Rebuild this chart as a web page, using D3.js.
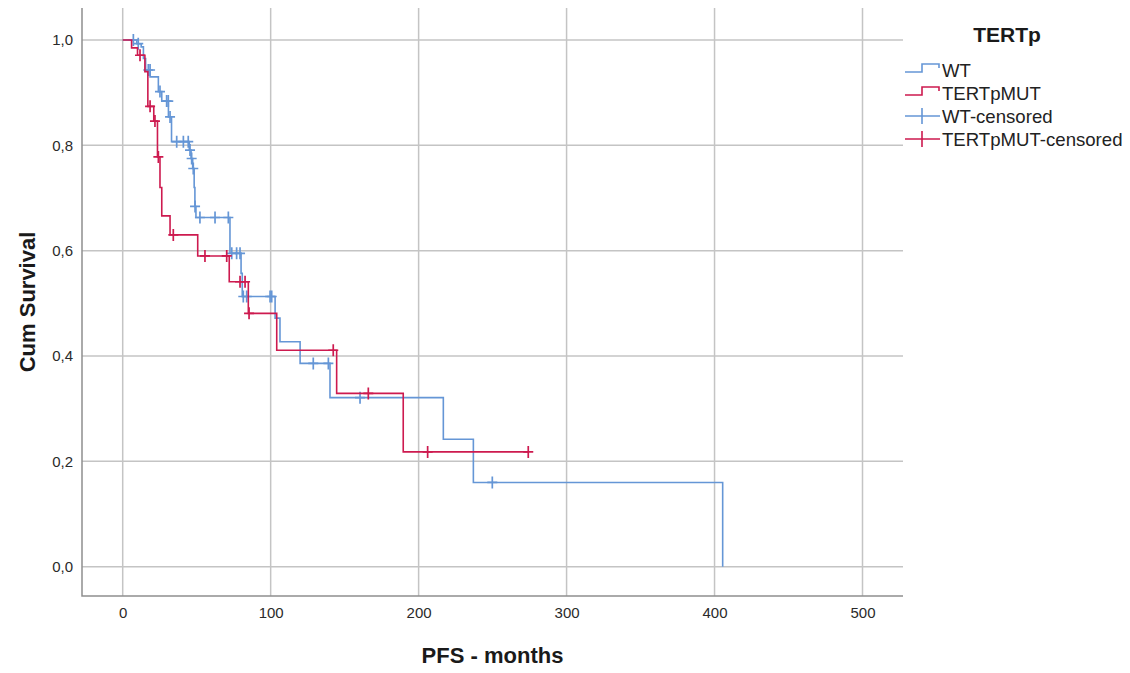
<!DOCTYPE html>
<html>
<head>
<meta charset="utf-8">
<script src="https://cdn.jsdelivr.net/npm/d3@7"></script>
<style>
  body { margin: 0; background: #fff; }
  svg { font-family: "Liberation Sans", Arial, sans-serif; }
</style>
</head>
<body>
<svg id="chart"></svg>
<script>
// Kaplan-Meier steps: time (months) and survival after the step
const wtTimes = [0, 9.5, 12.5, 14, 15.5, 18.5, 24.1, 26.4, 30.9, 33, 45, 46.2, 47.3, 48.3, 48.8, 49.5, 72.5, 80, 80.8, 103, 106.3, 119.9, 140.1, 216.7, 237, 405.5];
const wtSurv = [1, 0.993, 0.987, 0.965, 0.943, 0.930, 0.902, 0.884, 0.854, 0.807, 0.791, 0.775, 0.756, 0.720, 0.684, 0.663, 0.595, 0.557, 0.513, 0.472, 0.427, 0.386, 0.321, 0.242, 0.160, 0];
const wtCensTimes = [7.2, 10.5, 17.3, 18.5, 25.2, 29.7, 30.8, 32, 36.5, 41, 44.3, 45.5, 46.6, 47.7, 48.9, 52.2, 62.4, 71.4, 73.7, 77, 79.3, 81.5, 83.8, 99.6, 100.7, 128.8, 139, 160.4, 249.8];
const wtCensSurv = [1, 0.993, 0.943, 0.943, 0.902, 0.884, 0.884, 0.854, 0.807, 0.807, 0.807, 0.791, 0.775, 0.756, 0.684, 0.663, 0.663, 0.663, 0.595, 0.595, 0.595, 0.513, 0.513, 0.513, 0.513, 0.386, 0.386, 0.321, 0.160];
const wtEnd = 405.5;

const mutTimes = [0, 6, 10, 15, 17, 21, 23.5, 25.2, 26.4, 32, 50.7, 72, 84.9, 104.1, 144.6, 189.6];
const mutSurv = [1, 0.985, 0.971, 0.94, 0.874, 0.846, 0.778, 0.72, 0.666, 0.630, 0.590, 0.541, 0.481, 0.411, 0.329, 0.218];
const mutCensTimes = [11.7, 18.5, 21.8, 24.1, 34.2, 55.6, 70.3, 79.3, 82.7, 85.4, 142.3, 166, 206.1, 274.1];
const mutCensSurv = [0.971, 0.874, 0.846, 0.778, 0.630, 0.590, 0.590, 0.541, 0.541, 0.481, 0.411, 0.329, 0.218, 0.218];
const mutEnd = 274.1;

const xTicks = [0, 100, 200, 300, 400, 500];
const yTicks = [0, 0.2, 0.4, 0.6, 0.8, 1.0];
const legendLabels = ["WT", "TERTpMUT", "WT-censored", "TERTpMUT-censored"];

const width = 1130, height = 673;
const blue = "#6596d6", red = "#cd1a4f", gridColor = "#c4c4c4", axisColor = "#8e8e8e";

const svg = d3.select("#chart").attr("width", width).attr("height", height);

// plot frame (pixel box of the axes)
const frame = { left: 82, right: 903, top: 8, bottom: 596 };

const x = d3.scaleLinear().domain([0, 500]).range([122.7, 862.5]);
const y = d3.scaleLinear().domain([0, 1]).range([566.7, 40]);

// Grid
svg.append("g")
  .selectAll("line")
  .data(xTicks)
  .join("line")
  .attr("x1", (d) => x(d)).attr("x2", (d) => x(d))
  .attr("y1", frame.top).attr("y2", frame.bottom)
  .attr("stroke", gridColor).attr("stroke-width", 1.5);

svg.append("g")
  .selectAll("line")
  .data(yTicks)
  .join("line")
  .attr("x1", frame.left).attr("x2", frame.right)
  .attr("y1", (d) => y(d)).attr("y2", (d) => y(d))
  .attr("stroke", gridColor).attr("stroke-width", 1.5);

// Axes (labels only, lines drawn separately)
const fmt = (d) => d3.format(".1f")(d).replace(".", ",");

const yAxis = svg.append("g")
  .attr("transform", `translate(${frame.left},0)`)
  .call(d3.axisLeft(y).tickValues(yTicks).tickFormat(fmt).tickSize(0).tickPadding(9));
yAxis.select(".domain").remove();
yAxis.selectAll("text").style("font-size", "15px").style("fill", "#2a2a2a");

const xAxis = svg.append("g")
  .attr("transform", `translate(0,${frame.bottom})`)
  .call(d3.axisBottom(x).tickValues(xTicks).tickFormat(d3.format("d")).tickSize(0).tickPadding(11));
xAxis.select(".domain").remove();
xAxis.selectAll("text").style("font-size", "15px").style("fill", "#2a2a2a");

svg.append("path")
  .attr("d", `M${frame.left},${frame.top}V${frame.bottom}H${frame.right}`)
  .attr("fill", "none")
  .attr("stroke", axisColor)
  .attr("stroke-width", 1.5);

// Axis titles
svg.append("text")
  .attr("x", (frame.left + frame.right) / 2)
  .attr("y", 663)
  .attr("text-anchor", "middle")
  .style("font-size", "22px")
  .style("font-weight", "bold")
  .style("fill", "#1a1a1a")
  .text("PFS - months");

svg.append("text")
  .attr("transform", "rotate(-90)")
  .attr("x", -(frame.top + frame.bottom) / 2)
  .attr("y", 35)
  .attr("text-anchor", "middle")
  .style("font-size", "22px")
  .style("font-weight", "bold")
  .style("fill", "#1a1a1a")
  .text("Cum Survival");

// Survival curves
const line = d3.line()
  .x((d) => x(d[0]))
  .y((d) => y(d[1]))
  .curve(d3.curveStepAfter);

function curvePoints(times, surv, end) {
  const pts = times.map((t, i) => [t, surv[i]]);
  pts.push([end, surv[surv.length - 1]]);
  return pts;
}

const series = [
  { color: blue, pts: curvePoints(wtTimes, wtSurv, wtEnd), cens: wtCensTimes.map((t, i) => [t, wtCensSurv[i]]) },
  { color: red, pts: curvePoints(mutTimes, mutSurv, mutEnd), cens: mutCensTimes.map((t, i) => [t, mutCensSurv[i]]) },
];

series.forEach((s) => {
  svg.append("path")
    .datum(s.pts)
    .attr("fill", "none")
    .attr("stroke", s.color)
    .attr("stroke-width", 1.6)
    .attr("d", line);

  svg.append("g")
    .selectAll("path")
    .data(s.cens)
    .join("path")
    .attr("d", (d) => `M${x(d[0]) - 5},${y(d[1])}h10M${x(d[0])},${y(d[1]) - 6}v12`)
    .attr("fill", "none")
    .attr("stroke", s.color)
    .attr("stroke-width", 1.7);
});

// Legend
const legend = svg.append("g");
legend.append("text")
  .attr("x", 1007)
  .attr("y", 42)
  .attr("text-anchor", "middle")
  .style("font-size", "21px")
  .style("font-weight", "bold")
  .style("fill", "#1a1a1a")
  .text("TERTp");

const legendColors = [blue, red, blue, red];
legendLabels.forEach((label, i) => {
  const cy = 70 + i * 23;
  const g = legend.append("g");
  if (i < 2) {
    g.append("path")
      .attr("d", `M905,${cy + 2}H922V${cy - 6}H939V${cy - 2}`)
      .attr("fill", "none")
      .attr("stroke", legendColors[i])
      .attr("stroke-width", 1.6);
  } else {
    g.append("path")
      .attr("d", `M905,${cy}H940M922,${cy - 8}V${cy + 8}`)
      .attr("fill", "none")
      .attr("stroke", legendColors[i])
      .attr("stroke-width", 1.6);
  }
  g.append("text")
    .attr("x", 942)
    .attr("y", cy)
    .attr("dy", "0.35em")
    .style("font-size", "18.6px")
    .style("fill", "#222")
    .text(label);
});
</script>
</body>
</html>
